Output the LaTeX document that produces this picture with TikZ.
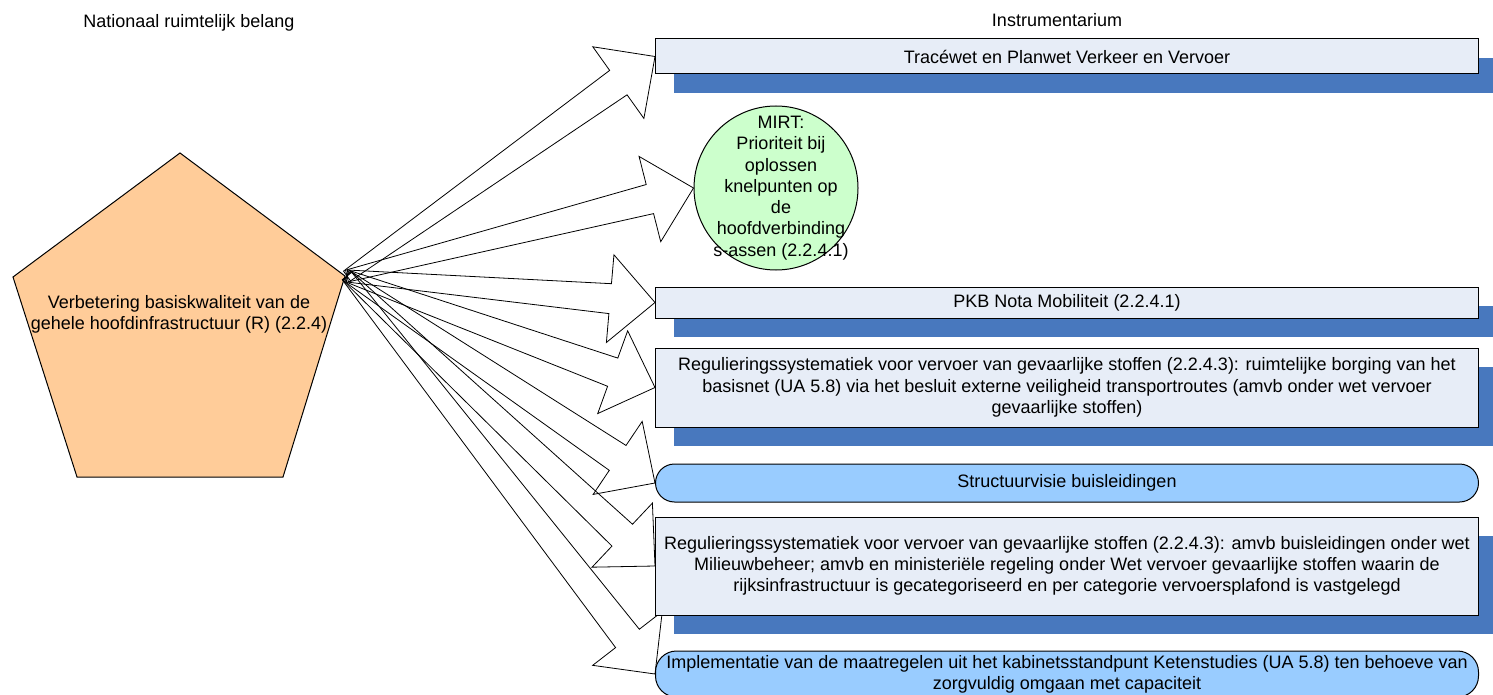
\documentclass[tikz,border=0pt]{standalone}
\usepackage{fontspec}
\setmainfont{Liberation Sans}
\usetikzlibrary{calc,shadows}
\definecolor{oranje}{RGB}{255,204,153}
\definecolor{lichtblauw}{RGB}{231,237,247}
\definecolor{schaduw}{RGB}{72,120,190}
\definecolor{hemel}{RGB}{153,204,255}
\definecolor{mint}{RGB}{204,255,204}
\pgfdeclarelayer{achter}
\pgfsetlayers{achter,main}
\tikzset{
  instrument/.style={draw, fill=lichtblauw, line width=1pt, anchor=west,
    minimum width=823pt, align=center, inner sep=0pt,
    drop shadow={shadow xshift=18pt, shadow yshift=-19pt, fill=schaduw, opacity=1}},
  visie/.style={draw, fill=hemel, line width=1pt, anchor=west,
    minimum width=823pt, rounded corners=19pt, align=center, inner sep=0pt},
  pijl/.style={draw, line width=0.8pt, line join=miter}
}
% brede pijl van #1 naar #2
\newcommand{\fatarrow}[2]{%
  \coordinate (hb) at ($(#2)!45pt!(#1)$);
  \draw[pijl] ($(#1)!6pt!90:(#2)$) -- ($(hb)!15pt!90:(#2)$) -- ($(hb)!44pt!90:(#2)$) -- (#2)
    -- ($(hb)!44pt!-90:(#2)$) -- ($(hb)!15pt!-90:(#2)$) -- ($(#1)!6pt!-90:(#2)$) -- cycle;}
\begin{document}
\begin{tikzpicture}[x=1pt, y=-1pt, font=\fontsize{18}{21.3}\selectfont]
  \useasboundingbox (0,0) rectangle (1493,695);
  \clip (0,0) rectangle (1493,695);
  \node (belangkop) at (189,23) {Nationaal ruimtelijk belang};
  \node (instrkop) at (1057,20) {Instrumentarium};
  \node[align=center] (belang) at (179,314)
    {Verbetering basiskwaliteit van de\\gehele hoofdinfrastructuur (R) (2.2.4)};

  \node[instrument, minimum height=35pt] (trace) at (655,56.5)
    {Tracéwet en Planwet Verkeer en Vervoer};
  \node[draw, circle, fill=mint, line width=1pt, minimum size=164pt, inner sep=0pt] (mirt) at (776,188) {};
  \node[align=center, inner sep=0pt] (mirttekst) at (781,188)
    {MIRT:\\Prioriteit bij\\oplossen\\knelpunten op\\de\\hoofdverbinding\\s-assen (2.2.4.1)};
  \node[instrument, minimum height=31pt] (pkb) at (655,302.5) {PKB Nota Mobiliteit (2.2.4.1)};
  \node[instrument, minimum height=79pt] (basisnet) at (655,387.5)
    {Regulieringssystematiek voor vervoer van gevaarlijke stoffen (2.2.4.3): ruimtelijke borging van het\\
     basisnet (UA 5.8) via het besluit externe veiligheid transportroutes (amvb onder wet vervoer\\
     gevaarlijke stoffen)};
  \node[visie, minimum height=38pt] (buis) at (655,483) {Structuurvisie buisleidingen};
  \node[instrument, minimum height=98pt] (plafond) at (655,566)
    {Regulieringssystematiek voor vervoer van gevaarlijke stoffen (2.2.4.3): amvb buisleidingen onder wet\\
     Milieuwbeheer; amvb en ministeriële regeling onder Wet vervoer gevaarlijke stoffen waarin de\\
     rijksinfrastructuur is gecategoriseerd en per categorie vervoersplafond is vastgelegd};
  \node[visie, minimum height=46pt, rounded corners=21pt] (keten) at (655,674)
    {Implementatie van de maatregelen uit het kabinetsstandpunt Ketenstudies (UA 5.8) ten behoeve van\\
     zorgvuldig omgaan met capaciteit};

  \begin{pgfonlayer}{achter}
    \filldraw[fill=oranje, line width=1pt] (180,153) -- (345,276) -- (283,477) -- (77,477) -- (13,277) -- cycle;
    \coordinate (punt) at (347,276);
    \foreach \doel in {trace.west, mirt.west, pkb.west, basisnet.west, buis.west, plafond.west, keten.west}
      \fatarrow{punt}{\doel};
  \end{pgfonlayer}
\end{tikzpicture}
\end{document}
